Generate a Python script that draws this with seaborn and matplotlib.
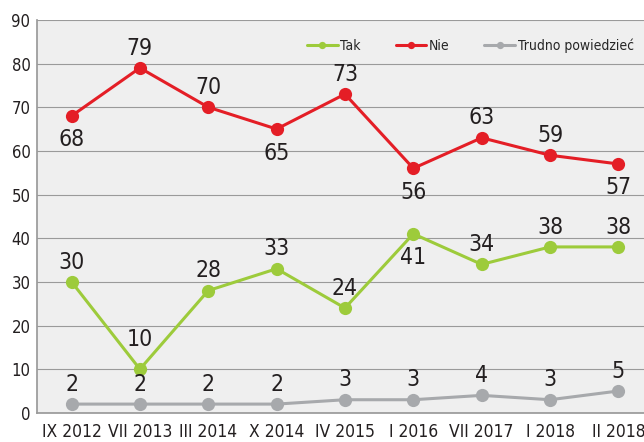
import matplotlib
matplotlib.use("Agg")
import matplotlib.pyplot as plt
import pandas as pd
import seaborn as sns

okresy = ["IX 2012", "VII 2013", "III 2014", "X 2014", "IV 2015",
          "I 2016", "VII 2017", "I 2018", "II 2018"]
tak = [30, 10, 28, 33, 24, 41, 34, 38, 38]
nie = [68, 79, 70, 65, 73, 56, 63, 59, 57]
trudno = [2, 2, 2, 2, 3, 3, 4, 3, 5]

# przesunięcie etykiet w punktach: dodatnie = nad punktem, ujemne = pod punktem
tak_off = [6, 13, 6, 6, 6, -9, 6, 6, 6]
nie_off = [-9, 6, 6, -9, 6, -9, 6, 6, -9]
trudno_off = [6] * 9

sns.set_theme(style="white")
plt.rcParams["font.family"] = ["DejaVu Sans"]
plt.rcParams["font.stretch"] = "condensed"

df = pd.DataFrame({"okres": okresy * 3,
                   "wartosc": tak + nie + trudno,
                   "seria": ["Tak"] * 9 + ["Nie"] * 9 + ["Trudno powiedzieć"] * 9})
kolory = {"Tak": "#9dcb3b", "Nie": "#e41e26", "Trudno powiedzieć": "#a7a9ac"}

fig = plt.figure(figsize=(6.44, 4.42), dpi=100)
ax = fig.add_axes([0.058, 0.066, 0.95, 0.889])
ax.set_facecolor("#efefef")

sns.lineplot(data=df, x="okres", y="wartosc", hue="seria", palette=kolory,
             marker="o", markersize=9.5, markeredgewidth=0, linewidth=2.2,
             sort=False, ax=ax)

for vals, offs in [(tak, tak_off), (nie, nie_off), (trudno, trudno_off)]:
    for i, (v, o) in enumerate(zip(vals, offs)):
        ax.annotate(str(v), (i, v), xytext=(0, o), textcoords="offset points",
                    ha="center", va="bottom" if o > 0 else "top",
                    fontsize=16.5, color="#231f20")

ax.set_xlim(-0.5, 8.45)
ax.set_ylim(0, 90)
ax.set_yticks(range(0, 91, 10))
ax.yaxis.grid(True, color="#9a9a9a", linewidth=0.8)
ax.set_axisbelow(True)
for s in ["top", "right"]:
    ax.spines[s].set_visible(False)
ax.spines["left"].set_color("#9a9a9a")
ax.spines["bottom"].set_color("#9a9a9a")
ax.tick_params(axis="y", labelsize=12, colors="#231f20", length=0, pad=5)
ax.tick_params(axis="x", labelsize=12.5, colors="#231f20", length=0, pad=7)
ax.set_xlabel("")
ax.set_ylabel("")

ax.legend(title=None, loc="upper right", bbox_to_anchor=(0.995, 0.985), ncol=3,
          frameon=False, fontsize=10, handlelength=2.2, markerscale=0.55,
          columnspacing=2.5, handletextpad=0.2)

fig.savefig("out.png", dpi=100)
